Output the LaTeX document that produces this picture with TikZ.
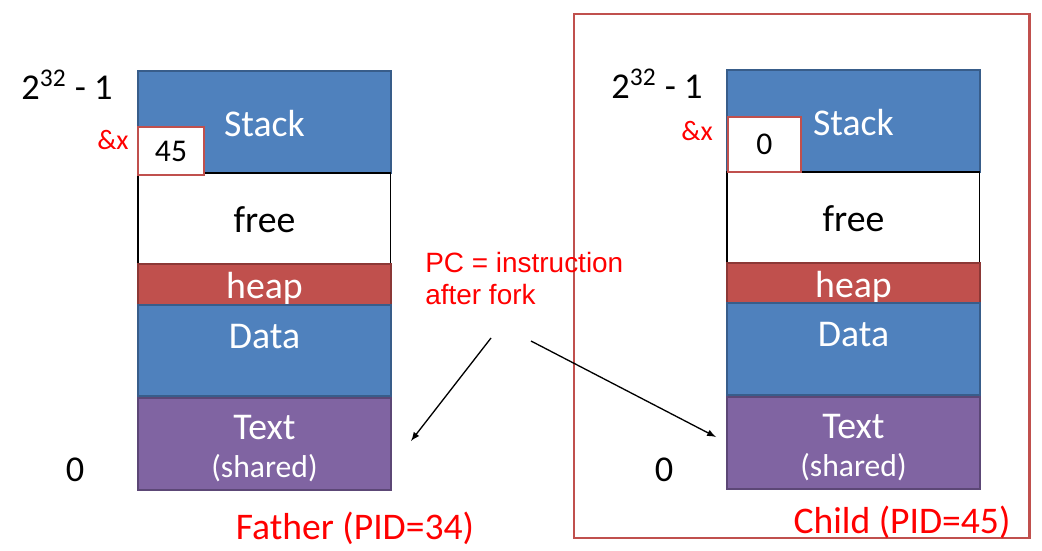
\documentclass[tikz,border=0pt]{standalone}
\usepackage{fontspec}
\setmainfont{Carlito}
\newfontfamily\arialfont{Liberation Sans}
\usepackage{tikz}
\usepackage{xcolor}
\usetikzlibrary{positioning}
\definecolor{segblue}{HTML}{4F81BD}
\definecolor{segblueD}{HTML}{385D8A}
\definecolor{heapred}{HTML}{C0504D}
\definecolor{heapredD}{HTML}{8C3836}
\definecolor{textpurple}{HTML}{8064A2}
\definecolor{textpurpleD}{HTML}{5C4776}
\tikzset{
  seg/.style={draw, line width=1.1pt, outer sep=0pt, minimum width=5.06cm, inner sep=0pt, text=white, font=\fontsize{21.5}{23}\selectfont, text height=16.5pt, text depth=0pt},
  seglbl/.style={text=white, font=\fontsize{21.5}{23}\selectfont, align=center, anchor=center, inner sep=0pt},
  cell/.style={draw=heapred, line width=1.3pt, outer sep=0pt, fill=white, inner sep=0pt, font=\fontsize{18}{20}\selectfont},
  addr/.style={font=\fontsize{20.7}{24}\selectfont, inner sep=0pt},
  ref/.style={text=red, font=\fontsize{16}{19}\selectfont, inner sep=0pt},
  owner/.style={text=red, font=\fontsize{21.4}{24}\selectfont, inner sep=0pt}
}
\begin{document}
\begin{tikzpicture}[x=0.02cm, y=-0.02cm, >=latex]
    \useasboundingbox (0,0) rectangle (1042,551);
    % child frame
    \draw[heapred, line width=1.7pt] (574,14) rectangle (1029,538);
    % father
    \node [seg, fill=segblue, draw=segblueD, minimum height=2.04cm, anchor=north west] (stackF) at (138,71) {Stack};
    \node [seg, fill=white, draw=black, line width=0.6pt, text=black, minimum height=1.82cm, below=0pt of stackF] (freeF) {free};
    \node [seg, fill=heapred, draw=heapredD, minimum height=0.82cm, below=0pt of freeF] (heapF) {heap};
    \node [seg, fill=segblue, draw=segblueD, minimum height=1.82cm, below=0pt of heapF, label={[seglbl, yshift=-0.64cm]north:Data}] (dataF) {};
    \node [seg, fill=textpurple, draw=textpurpleD, minimum height=1.84cm, below=0.04cm of dataF, label={[seglbl, yshift=-1.01cm]north:{Text\\[-1pt]{\fontsize{18}{20}\selectfont (shared)}}}] (textF) {};
    \node [cell, minimum width=1.32cm, minimum height=0.96cm, anchor=north west] (xF) at (138,127) {45};
    \node [addr] (topF) at (67,85) {2\textsuperscript{32} - 1};
    \node [ref] (refF) at (113,140) {\&x};
    \node [addr] (zeroF) at (75,470) {0};
    \node [owner] (fatherLbl) at (355,528) {Father (PID=34)};
    % child
    \node [seg, fill=segblue, draw=segblueD, minimum height=2.04cm, anchor=north west] (stackC) at (727,70) {Stack};
    \node [seg, fill=white, draw=black, line width=0.6pt, text=black, minimum height=1.82cm, below=0pt of stackC] (freeC) {free};
    \node [seg, fill=heapred, draw=heapredD, minimum height=0.8cm, below=0pt of freeC] (heapC) {heap};
    \node [seg, fill=segblue, draw=segblueD, minimum height=1.84cm, below=0pt of heapC, label={[seglbl, yshift=-0.64cm]north:Data}] (dataC) {};
    \node [seg, fill=textpurple, draw=textpurpleD, minimum height=1.84cm, below=0.04cm of dataC, label={[seglbl, yshift=-1.01cm]north:{Text\\[-1pt]{\fontsize{18}{20}\selectfont (shared)}}}] (textC) {};
    \node [cell, minimum width=1.46cm, minimum height=1.1cm, anchor=north west] (xC) at (728,117) {0};
    \node [addr] (topC) at (657,84) {2\textsuperscript{32} - 1};
    \node [ref] (refC) at (697,131) {\&x};
    \node [addr] (zeroC) at (664,470) {0};
    \node [owner] (childLbl) at (902,522) {Child (PID=45)};
    % program counter
    \node [text=red, font=\arialfont\fontsize{15.9}{18}\selectfont, align=left, inner sep=0pt, anchor=north west] (pc) at (425,252) {PC = instruction\\after fork};
    \coordinate (pcL) at (491,338);
    \coordinate (pcR) at (531,341);
    \coordinate (tipF) at (411,441);
    \coordinate (tipC) at (716,437);
    \draw [->, line width=0.75pt] (pcL)--(tipF);
    \draw [->, line width=0.75pt] (pcR)--(tipC);
\end{tikzpicture}
\end{document}
